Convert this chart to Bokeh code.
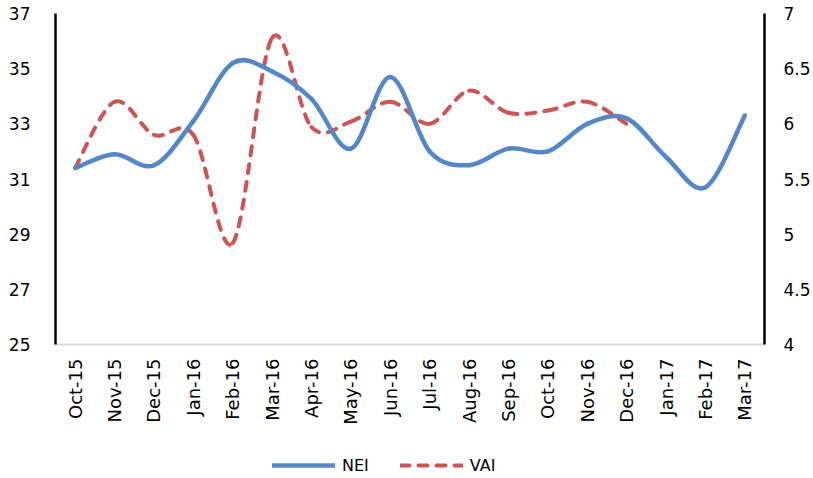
import numpy as np
from bokeh.plotting import figure
from bokeh.layouts import column
from bokeh.models import (Range1d, LinearAxis, FixedTicker, NumeralTickFormatter,
                          Legend, LegendItem, ColumnDataSource)
from bokeh.embed import file_html
from bokeh.resources import INLINE

months = ["Oct-15", "Nov-15", "Dec-15", "Jan-16", "Feb-16", "Mar-16", "Apr-16", "May-16",
          "Jun-16", "Jul-16", "Aug-16", "Sep-16", "Oct-16", "Nov-16", "Dec-16", "Jan-17",
          "Feb-17", "Mar-17"]
nei = [31.4, 31.9, 31.5, 33.1, 35.2, 34.9, 33.9, 32.1, 34.7, 32.0, 31.5, 32.1, 32.0, 33.0,
       33.2, 31.8, 30.7, 33.3]
vai = [5.6, 6.2, 5.9, 5.9, 4.92, 6.78, 5.97, 6.02, 6.2, 6.0, 6.3, 6.1, 6.12, 6.2, 6.0]

left_ticks = [25, 27, 29, 31, 33, 35, 37]
right_ticks = [4, 4.5, 5, 5.5, 6, 6.5, 7]

BLUE = "#5487C6"
RED = "#CC5452"
FONT = "DejaVu Sans"

p = figure(width=813, height=450, output_backend="svg", toolbar_location=None,
           x_range=Range1d(0, len(months)), y_range=Range1d(25, 37),
           min_border_left=55, min_border_right=49, min_border_top=13, min_border_bottom=106,
           outline_line_color=None, y_axis_location=None, x_axis_location=None)
p.xgrid.visible = False
p.ygrid.visible = False
p.extra_y_ranges = {"vai": Range1d(4, 7)}


def bez(vals, xs):
    n = len(vals)
    P = [(xs[i], vals[i]) for i in range(n)]
    x0, y0, x1, y1, cx0, cy0, cx1, cy1 = ([] for _ in range(8))
    for i in range(n - 1):
        pm = P[i - 1] if i > 0 else P[i]
        pa, pb = P[i], P[i + 1]
        pn = P[i + 2] if i + 2 < n else P[i + 1]
        x0.append(pa[0]); y0.append(pa[1]); x1.append(pb[0]); y1.append(pb[1])
        cx0.append(pa[0] + (pb[0] - pm[0]) / 6); cy0.append(pa[1] + (pb[1] - pm[1]) / 6)
        cx1.append(pb[0] - (pn[0] - pa[0]) / 6); cy1.append(pb[1] - (pn[1] - pa[1]) / 6)
    return ColumnDataSource(dict(x0=x0, y0=y0, x1=x1, y1=y1, cx0=cx0, cy0=cy0, cx1=cx1, cy1=cy1))


xs_nei = [i + 0.5 for i in range(len(nei))]
xs_vai = [i + 0.5 for i in range(len(vai))]

p.bezier(x0="x0", y0="y0", x1="x1", y1="y1", cx0="cx0", cy0="cy0", cx1="cx1", cy1="cy1",
         source=bez(vai, xs_vai), line_color=RED, line_width=4, line_dash="9 9",
         line_cap="round", y_range_name="vai")
p.bezier(x0="x0", y0="y0", x1="x1", y1="y1", cx0="cx0", cy0="cy0", cx1="cx1", cy1="cy1",
         source=bez(nei, xs_nei), line_color=BLUE, line_width=4.5, line_cap="round")

# axes
xaxis = LinearAxis(ticker=FixedTicker(ticks=[i + 0.5 for i in range(len(months))]),
                   major_label_overrides={i + 0.5: m for i, m in enumerate(months)})
xaxis.major_label_orientation = np.pi / 2
xaxis.major_label_standoff = 14
p.add_layout(xaxis, "below")

yl = LinearAxis(ticker=FixedTicker(ticks=left_ticks))
yl.major_label_standoff = 25
p.add_layout(yl, "left")

yr = LinearAxis(y_range_name="vai", ticker=FixedTicker(ticks=right_ticks),
                formatter=NumeralTickFormatter(format="0.[0]"))
yr.major_label_standoff = 19
p.add_layout(yr, "right")

for ax in (xaxis, yl, yr):
    ax.major_tick_out = 0
    ax.major_tick_in = 0
    ax.minor_tick_out = 0
    ax.minor_tick_in = 0
    ax.major_label_text_font = FONT
    ax.major_label_text_color = "#000000"
    ax.major_label_text_font_size = "17px"
    ax.axis_line_color = "#000000"
    ax.axis_line_width = 2.5
xaxis.axis_line_color = "#D9D9D9"
xaxis.axis_line_width = 2
xaxis.major_label_text_font_size = "18px"

# legend strip below the chart
lg = figure(width=813, height=28, output_backend="svg", toolbar_location=None,
            x_range=Range1d(0, 1), y_range=Range1d(0, 1),
            min_border=0, outline_line_color=None, x_axis_location=None, y_axis_location=None)
lg.xgrid.visible = False
lg.ygrid.visible = False
nan = float("nan")
r1 = lg.line([nan], [nan], line_color=BLUE, line_width=4.5, line_cap="round")
r2 = lg.line([nan], [nan], line_color=RED, line_width=4, line_dash="9 9", line_cap="round")
legend = Legend(items=[LegendItem(label="NEI", renderers=[r1]),
                       LegendItem(label="VAI", renderers=[r2])],
                location=(217, 3), orientation="horizontal",
                glyph_width=63, glyph_height=20, label_standoff=7, spacing=31,
                padding=0, margin=0, border_line_color=None, background_fill_alpha=0,
                label_text_font=FONT, label_text_font_size="16px",
                label_text_color="#000000")
lg.add_layout(legend, "center")

open("out.html", "w").write(file_html(column(p, lg, spacing=0), INLINE))
